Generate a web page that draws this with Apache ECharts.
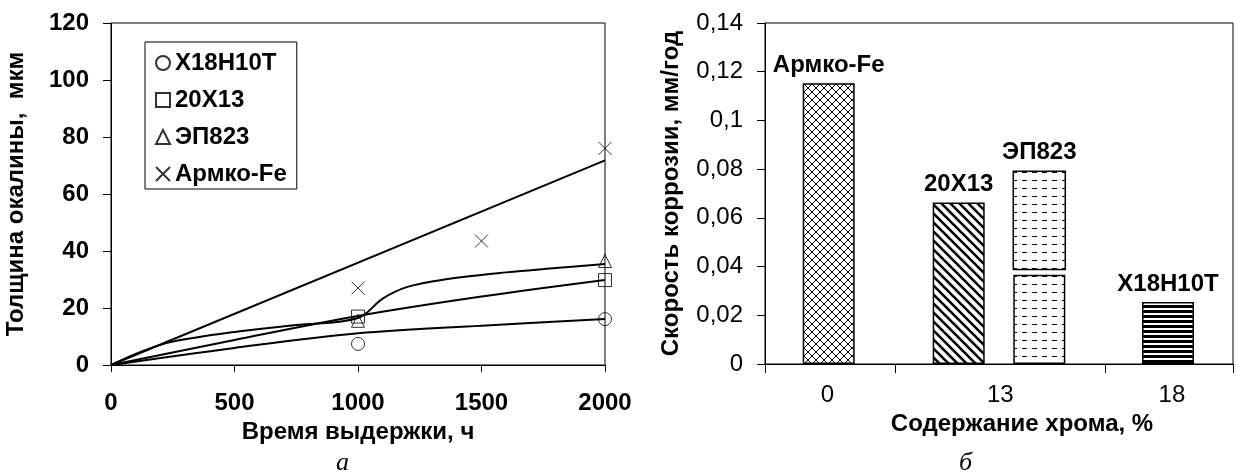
<!DOCTYPE html>
<html>
<head>
<meta charset="utf-8">
<script src="https://cdn.jsdelivr.net/npm/echarts@6/dist/echarts.min.js"></script>
<style>
  html, body { margin: 0; padding: 0; background: #fff; }
  #chart { width: 1236px; height: 472px; }
</style>
</head>
<body>
<div id="chart"></div>
<script>
// --- a) scale thickness vs exposure time ---
const steels = ['Х18Н10Т', '20Х13', 'ЭП823', 'Армко-Fe']
const measHours = [1000, 2000]
const x18Meas = [7.4, 16.1]
const x13Meas = [17.0, 29.8]
const epMeas = [15.5, 36.5]
const armcoHours = [1000, 1500, 2000]
const armcoMeas = [27, 43.5, 76]

// fitted curves
const curveHours = [0, 500, 1000, 1500, 2000]
const x18Curve = [0, 6.0, 11.1, 13.8, 16.1]
const x13Curve = [0, 8.8, 17.2, 24.0, 29.8]
const epCurveHours = [0, 125, 250, 500, 750, 1000, 1100, 1200, 1350, 1600, 1800, 2000]
const epCurve = [0, 4.8, 8.2, 11.6, 14.0, 16.5, 23.3, 27.4, 30.0, 32.5, 34.0, 35.4]
const armcoTrendHours = [0, 2000]
const armcoTrend = [0, 71.8]

// --- b) corrosion rate vs chromium content ---
const crContent = ['0', '13', '18']
const barSteels = ['Армко-Fe', '20Х13', 'ЭП823', 'Х18Н10Т']
const corrRate = [0.1153, 0.0663, 0.0791, 0.0255]
const epBreak = [0.0366, 0.0388] // ЭП823 bar is drawn in two pieces

// layout of the right x axis (arbitrary units 0..36)
const barSlot = [4.9, 14.9, 21.1, 31.0]
const labelSlot = [4.8, 18.1, 31.3]
const tickSlot = [0, 10, 26.2, 36]
const BAR_W = 52

const font = '"Liberation Sans", Arial, sans-serif'
const txt = { color: '#000', fontFamily: font, fontSize: 24, fontWeight: 'bold' }
const axisBlack = { show: true, lineStyle: { color: '#000', width: 1 } }

function hatch(w, h, draw) {
  const c = document.createElement('canvas')
  c.width = w
  c.height = h
  const g = c.getContext('2d')
  g.fillStyle = '#fff'
  g.fillRect(0, 0, w, h)
  g.strokeStyle = '#000'
  g.fillStyle = '#000'
  draw(g)
  return { image: c, repeat: 'repeat' }
}

const fills = [
  hatch(8, 8, g => {
    g.lineWidth = 1
    g.beginPath()
    g.moveTo(-1, -1); g.lineTo(9, 9)
    g.moveTo(9, -1); g.lineTo(-1, 9)
    g.stroke()
  }),
  hatch(9, 9, g => {
    g.lineWidth = 2.6
    g.beginPath()
    g.moveTo(-1, -1); g.lineTo(10, 10)
    g.moveTo(8, -1); g.lineTo(19, 10)
    g.moveTo(-10, -1); g.lineTo(1, 10)
    g.stroke()
  }),
  hatch(10, 8, g => {
    g.lineWidth = 1
    g.beginPath()
    g.moveTo(2, 4.5); g.lineTo(7, 4.5)
    g.stroke()
  }),
  hatch(4, 5, g => {
    g.fillRect(0, 0, 4, 3)
  })
]

const pts = (xs, ys) => xs.map((x, i) => [x, ys[i]])
const crossPath = 'path://M0,0L10,10M10,0L0,10'
const symbols = ['circle', 'rect', 'triangle', crossPath]
const meas = [
  pts(measHours, x18Meas),
  pts(measHours, x13Meas),
  pts(measHours, epMeas),
  pts(armcoHours, armcoMeas)
]
const curves = [
  pts(curveHours, x18Curve),
  pts(curveHours, x13Curve),
  pts(epCurveHours, epCurve),
  pts(armcoTrendHours, armcoTrend)
]

let series = []
for (let i = 0; i < steels.length; i++) {
  series.push({
    type: 'line',
    xAxisIndex: 0,
    yAxisIndex: 0,
    data: curves[i],
    smooth: 0.35,
    showSymbol: false,
    symbol: 'none',
    lineStyle: { color: '#000', width: 2 },
    z: 2
  })
  series.push({
    type: 'scatter',
    name: steels[i],
    xAxisIndex: 0,
    yAxisIndex: 0,
    data: meas[i],
    symbol: symbols[i],
    symbolSize: 13,
    itemStyle: { color: 'rgba(0,0,0,0)', borderColor: '#000', borderWidth: 1 },
    z: 3
  })
}

// plain bars from zero (ЭП823 gets only its lower piece here)
series.push({
  type: 'bar',
  xAxisIndex: 1,
  yAxisIndex: 1,
  barWidth: BAR_W,
  data: barSteels.map((n, i) => ({
    value: [barSlot[i], i === 2 ? epBreak[0] : corrRate[i]],
    itemStyle: { color: fills[i] },
    label: { show: i !== 2 }
  })),
  itemStyle: { borderColor: '#000', borderWidth: 1.5 },
  label: {
    show: true,
    position: 'top',
    distance: 6,
    formatter: p => barSteels[p.dataIndex],
    ...txt
  }
})

// upper piece of the ЭП823 bar, from epBreak[1] to the full value
series.push({
  type: 'custom',
  xAxisIndex: 1,
  yAxisIndex: 1,
  data: [[barSlot[2], epBreak[1], corrRate[2]]],
  renderItem: (params, api) => {
    const lo = api.coord([api.value(0), api.value(1)])
    const hi = api.coord([api.value(0), api.value(2)])
    return {
      type: 'rect',
      shape: { x: lo[0] - BAR_W / 2, y: hi[1], width: BAR_W, height: lo[1] - hi[1] },
      style: { fill: fills[2], stroke: '#000', lineWidth: 1.5 },
      textContent: {
        style: { text: barSteels[2], fill: '#000', font: 'bold 24px ' + font }
      },
      textConfig: { position: 'top', distance: 6 }
    }
  }
})

const chart = echarts.init(document.getElementById('chart'))
chart.setOption({
  animation: false,
  backgroundColor: '#fff',
  grid: [
    { left: 111, right: 631, top: 23, bottom: 107, show: true, borderColor: '#000', borderWidth: 1 },
    { left: 765, right: 3, top: 23, bottom: 108, show: true, borderColor: '#000', borderWidth: 1 }
  ],
  legend: {
    orient: 'vertical',
    left: 145,
    top: 42,
    padding: [9, 10, 3, 10],
    itemGap: 13,
    itemWidth: 14,
    itemHeight: 14,
    backgroundColor: '#fff',
    borderColor: '#000',
    borderWidth: 1,
    borderRadius: 0,
    textStyle: { ...txt, lineHeight: 24 },
    data: steels.map((n, i) => ({ name: n, icon: symbols[i] })),
    selectedMode: false
  },
  xAxis: [
    {
      type: 'value',
      gridIndex: 0,
      min: 0,
      max: 2000,
      interval: 500,
      axisLine: axisBlack,
      axisTick: { show: true, length: 7, lineStyle: { color: '#000' } },
      axisLabel: { ...txt, margin: 26, formatter: v => String(v) },
      splitLine: { show: false },
      name: 'Время выдержки, ч',
      nameLocation: 'middle',
      nameGap: 51,
      nameTextStyle: txt
    },
    {
      type: 'value',
      gridIndex: 1,
      min: 0,
      max: 36,
      axisLine: axisBlack,
      axisTick: { show: true, customValues: tickSlot, length: 9, lineStyle: { color: '#000' } },
      axisLabel: {
        ...txt,
        fontWeight: 'normal',
        margin: 19,
        customValues: labelSlot,
        formatter: v => crContent[labelSlot.findIndex(s => Math.abs(s - v) < 1e-6)]
      },
      splitLine: { show: false },
      name: 'Содержание хрома, %',
      nameLocation: 'middle',
      nameGap: 47,
      nameTextStyle: { ...txt, padding: [0, 0, 0, 46] }
    }
  ],
  yAxis: [
    {
      type: 'value',
      gridIndex: 0,
      min: 0,
      max: 120,
      interval: 20,
      axisLine: axisBlack,
      axisTick: { show: true, length: 8, lineStyle: { color: '#000' } },
      axisLabel: { ...txt, margin: 22 },
      splitLine: { show: false },
      name: 'Толщина окалины,  мкм',
      nameLocation: 'middle',
      nameGap: 83,
      nameTextStyle: txt
    },
    {
      type: 'value',
      gridIndex: 1,
      min: 0,
      max: 0.14,
      interval: 0.02,
      axisLine: axisBlack,
      axisTick: { show: true, length: 8, lineStyle: { color: '#000' } },
      axisLabel: {
        ...txt,
        fontWeight: 'normal',
        margin: 22,
        formatter: v => String(+v.toFixed(2)).replace('.', ',')
      },
      splitLine: { show: false },
      name: 'Скорость коррозии, мм/год',
      nameLocation: 'middle',
      nameGap: 82,
      nameTextStyle: txt
    }
  ],
  graphic: [
    { type: 'text', left: 336, top: 450, style: { text: 'а', font: 'italic 26px "Liberation Serif"', fill: '#000' } },
    { type: 'text', left: 959, top: 450, style: { text: 'б', font: 'italic 26px "Liberation Serif"', fill: '#000' } }
  ],
  series: series
})
</script>
</body>
</html>
